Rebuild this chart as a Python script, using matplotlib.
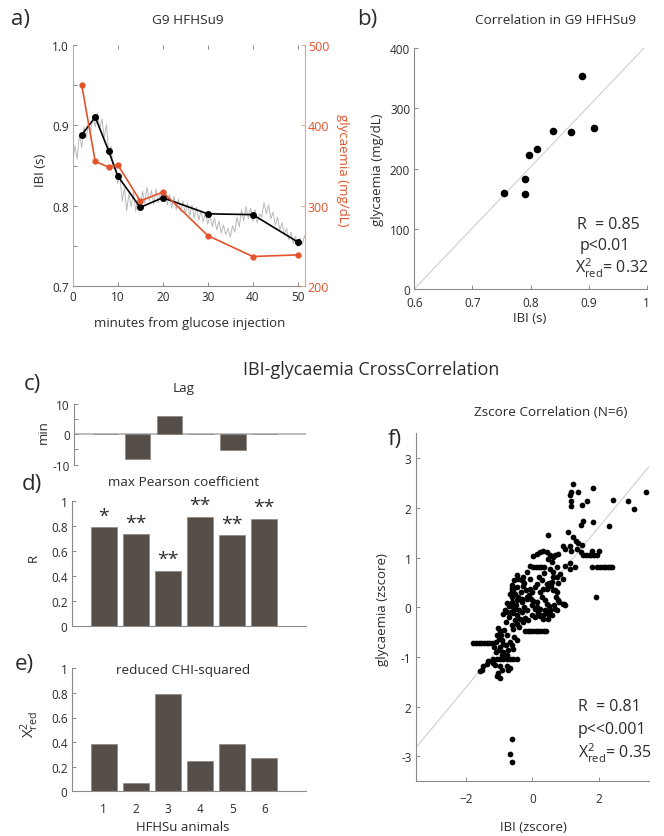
import matplotlib
matplotlib.use("Agg")
import matplotlib.pyplot as plt
import numpy as np

plt.rcParams["font.family"] = ["Open Sans", "DejaVu Sans"]
plt.rcParams["mathtext.fontset"] = "custom"
plt.rcParams["mathtext.rm"] = "Open Sans"
plt.rcParams["mathtext.it"] = "Open Sans:italic"

# ---- data: panel a (one recording)
trace_ibi = [0.852, 0.875, 0.858, 0.889, 0.872, 0.898, 0.884, 0.903, 0.893, 0.912,
             0.898, 0.915, 0.896, 0.908, 0.884, 0.901, 0.866, 0.874, 0.846, 0.852,
             0.828, 0.836, 0.806, 0.822, 0.794, 0.815, 0.799, 0.818, 0.793, 0.812,
             0.797, 0.818, 0.803, 0.823, 0.806, 0.819, 0.802, 0.821, 0.804, 0.817,
             0.806, 0.819, 0.801, 0.814, 0.797, 0.812, 0.795, 0.808, 0.793, 0.806,
             0.790, 0.803, 0.788, 0.801, 0.785, 0.798, 0.782, 0.794, 0.780, 0.792,
             0.777, 0.789, 0.774, 0.785, 0.770, 0.781, 0.766, 0.776, 0.764, 0.772,
             0.761, 0.775, 0.767, 0.786, 0.774, 0.795, 0.781, 0.799, 0.784, 0.797,
             0.781, 0.795, 0.779, 0.790, 0.786, 0.804, 0.790, 0.801, 0.784, 0.792,
             0.776, 0.786, 0.770, 0.779, 0.764, 0.772, 0.758, 0.767, 0.753, 0.762,
             0.749, 0.760, 0.752, 0.763, 0.755]
trace_min = np.arange(len(trace_ibi)) * 0.5
sample_min = [2, 5, 8, 10, 15, 20, 30, 40, 50]
ibi_mean = [0.888, 0.910, 0.868, 0.837, 0.798, 0.810, 0.790, 0.789, 0.755]
glyc = [450, 355, 348, 351, 306, 317, 263, 237, 239]

# ---- panel b
b_ibi = [0.755, 0.790, 0.790, 0.798, 0.811, 0.838, 0.869, 0.889, 0.910]
b_glyc = [160, 158, 183, 222, 232, 263, 261, 354, 268]

# ---- panels c, d, e
animals = [1, 2, 3, 4, 5, 6]
lag = [0, -8.2, 6.0, 0, -5.1, 0]
pearson = [0.787, 0.731, 0.44, 0.872, 0.726, 0.856]
signif = ["*", "**", "**", "**", "**", "**"]
chi2 = [0.388, 0.068, 0.789, 0.244, 0.388, 0.274]

# ---- panel f (zscores, all animals)
f_ibi = [1.23, 1.15, 1.36, 1.13, 1.15, 1.15, 1.48, 1.63, 1.83, 2.43, 2.86, 3.05, 3.40,
         1.53, 1.46, 1.81, 2.31, 1.08, 0.46, 1.23, 1.30, 1.38,
         0.93, 0.98, 1.13, 1.16, 1.33, 1.48, 1.46,
         1.53, 1.61, 1.69, 1.77, 1.85, 1.93, 1.78, 2.01,
         1.80, 1.95, 2.03, 2.11, 2.18, 2.26, 2.33, 2.38,
         0.78, 0.68, 0.73, 0.98, 1.13, 1.13, 1.28, 0.83, 0.73, 0.93,
         0.03, 0.13, 0.23, 0.33, 0.43, 0.53, 0.61,
         -0.07, 0.03, 0.11, 0.19, 0.27, 0.35,
         0.48, 0.58, 0.53, 0.63,
         -0.42, -0.32, -0.27, -0.62, -0.57, -0.52, -0.62, -0.17, -0.07, 0.13,
         -0.07, 0.08, 0.23, 0.33, 0.43, 0.53, 0.58, 0.63, 0.73, 0.78, 0.93, 0.98,
         -0.32, -0.17, 0.13, 0.08, 0.18, 0.38, 0.48, 0.53, 0.68, 0.48, 0.58, 0.33,
         1.90, 0.76, 0.68, 0.80, 0.96, 0.73,
         -0.32, -0.25, -0.29, 0.51, 0.55, 0.45,
         -0.62, -0.67, -0.57, -0.42, -0.47, -0.32, -0.17, -0.05, 0.03,
         0.28, 0.38, 0.43, 0.51, 0.53, 0.45,
         -0.77, -0.69, -0.82, -0.87, -0.77, -0.59, -0.52, -0.57, -0.47,
         0.13, 0.23, 0.18, -0.02, 0.08, 0.23, 0.33, 0.41,
         -0.22, -0.12, -0.27, -0.37, -0.52, -0.45, -0.39, -0.62, -0.57,
         -0.22, -0.14, -0.06, 0.02, 0.10, 0.18, 0.26, 0.34, 0.42,
         -1.02, -0.97, -1.05, -0.99, -1.09,
         -1.77, -1.69, -1.61, -1.53, -1.45, -1.37, -1.29, -1.21,
         -0.92, -0.87, -0.97, -0.67, -0.62, -0.57, -0.72, -0.87, -0.92, -0.77,
         -1.17, -1.07, -0.97, -0.87, -0.77, -0.67, -0.57, -0.47,
         -1.22, -1.17, -1.12, -1.32, -1.37, -1.47, -1.52, -1.57,
         -0.97, -0.92, -1.02, -1.07, -0.97, -0.77, -0.72, -0.67,
         -0.60, -0.67, -0.62,
         -1.0, -0.95, -0.85, -0.8, -0.7, -0.65, -0.6, -0.5, -0.4, -0.35, -0.45, -0.2,
         -0.1, 0.0, -0.3, -0.25, -0.15, 0.0, -0.55, -0.45, -0.75, -0.8, -1.1, -1.15,
         -0.6, -0.55, -0.45, 0.2, 0.3, 0.35, 0.62, 0.7, 0.65]
f_glyc = [2.49, 2.32, 2.32, 2.25, 2.13, 2.04, 2.05, 2.14, 2.39, 2.16, 2.13, 1.97, 2.32,
          1.73, 1.65, 1.71, 1.63, 1.51, 1.45, 1.41, 1.34, 1.29,
          1.24, 1.17, 1.23, 1.14, 1.17, 1.25, 1.12,
          1.05, 1.05, 1.05, 1.05, 1.05, 1.05, 1.14, 1.14,
          0.81, 0.81, 0.81, 0.81, 0.81, 0.81, 0.81, 0.81,
          1.07, 1.05, 0.81, 0.84, 0.89, 0.77, 0.81, 0.67, 0.61, 0.57,
          1.04, 1.07, 1.11, 1.14, 1.11, 1.05, 1.01,
          0.84, 0.81, 0.81, 0.81, 0.81, 0.81,
          0.97, 0.91, 0.77, 0.71,
          0.57, 0.54, 0.61, 0.39, 0.34, 0.27, 0.21, 0.71, 0.57, 0.47,
          0.37, 0.41, 0.31, 0.37, 0.47, 0.44, 0.51, 0.34, 0.31, 0.14, 0.07, 0.04,
          0.11, 0.17, 0.11, -0.03, -0.09, -0.06, -0.13, -0.06, -0.03, -0.23, -0.16, -0.23,
          0.21, 0.48, 0.34, 0.11, 0.06, -0.06,
          0.54, 0.49, 0.43, 0.49, 0.43, 0.37,
          0.34, 0.27, 0.24, 0.21, 0.14, 0.16, 0.21, 0.17, 0.12,
          0.21, 0.14, 0.07, 0.03, -0.06, -0.09,
          0.09, 0.03, -0.06, -0.13, -0.09, 0.01, -0.04, -0.11, -0.16,
          0.01, -0.04, -0.11, -0.16, -0.19, -0.17, -0.15, -0.09,
          -0.21, -0.26, -0.29, -0.23, -0.26, -0.33, -0.39, -0.36, -0.43,
          -0.47, -0.47, -0.47, -0.47, -0.47, -0.47, -0.47, -0.47, -0.47,
          -0.41, -0.48, -0.56, -0.63, -0.69,
          -0.72, -0.72, -0.72, -0.72, -0.72, -0.72, -0.72, -0.72,
          -0.66, -0.73, -0.79, -0.69, -0.76, -0.84, -0.86, -0.89, -0.96, -0.95,
          -1.03, -1.03, -1.03, -1.03, -1.03, -1.03, -1.03, -1.03,
          -1.08, -1.13, -1.17, -1.09, -1.15, -1.19, -1.26, -1.29,
          -1.19, -1.26, -1.33, -1.39, -1.43, -1.19, -1.26, -1.23,
          -2.65, -2.95, -3.11,
          -0.85, -0.55, -0.45, -0.3, -0.2, -0.1, 0.1, 0.05, -0.05, 0.3, 0.4, 0.35,
          0.25, 0.3, -0.1, 0.0, -0.05, 0.05, -0.6, -0.65, -0.55, -0.75, -0.9, -0.8,
          0.45, 0.55, 0.65, 0.6, 0.55, 0.7, 0.6, 0.2, 0.05]

# ---- style
W, H = 664, 837
ORANGE = "#e4532a"
BAR = "#564e49"
SPINE = "#8a8a8a"
TXT = "#2b2b2b"
TITLE_FS = 9.7
LABEL_FS = 9.5
TICK_FS = 8.5
STAT_FS = 11.5
PANEL_FS = 16

fig = plt.figure(figsize=(W / 100, H / 100), dpi=100)


def box(l, t, r, b):
    return [l / W, 1 - b / H, (r - l) / W, (b - t) / H]


def ftext(x, y, s, **kw):
    kw.setdefault("ha", "center")
    kw.setdefault("va", "center")
    kw.setdefault("color", TXT)
    fig.text(x / W, 1 - y / H, s, **kw)


def style(ax, sides=("left", "bottom")):
    for k, sp in ax.spines.items():
        sp.set_visible(k in sides)
        sp.set_color(SPINE)
        sp.set_linewidth(0.8)
    ax.tick_params(direction="in", length=3, width=0.7, color=SPINE,
                   labelsize=TICK_FS, labelcolor=TXT, pad=3)


# ---- a) time course
axA = fig.add_axes(box(72.7, 45.7, 305, 287.3))
style(axA, ("left", "bottom", "right"))
axA.spines["left"].set_color("#9fb1dc")
axA.spines["right"].set_color("#f0a080")
axA.plot(trace_min, trace_ibi, color="#b9b9b9", lw=0.7, zorder=1)
axA.plot(sample_min, ibi_mean, "-o", color="black", ms=4, lw=1.2, zorder=3)
axA.set_xlim(0, 51.6)
axA.set_ylim(0.7, 1.0)
axA.set_xticks([0, 10, 20, 30, 40, 50])
axA.set_yticks([0.7, 0.75, 0.8, 0.85, 0.9, 0.95, 1.0])
axA.set_yticklabels(["0.7", "", "0.8", "", "0.9", "", "1.0"])
axA.tick_params(axis="x", top=True)
axA2 = axA.twinx()
style(axA2, ())
axA2.plot(sample_min, glyc, "-o", color=ORANGE, ms=3.5, lw=1.2, zorder=2)
axA2.set_ylim(200, 500)
axA2.set_yticks([200, 300, 400, 500])
axA2.tick_params(axis="y", colors="#f0a080", labelcolor=ORANGE, labelsize=9, pad=2)
axA.patch.set_visible(False)

ftext(20, 20, "a)", fontsize=PANEL_FS)
ftext(188, 20, "G9 HFHSu9", fontsize=TITLE_FS)
ftext(41, 170, "IBI (s)", fontsize=LABEL_FS, rotation=90)
ftext(343, 170, "glycaemia (mg/dL)", fontsize=LABEL_FS, rotation=270, color=ORANGE)
ftext(190, 323, "minutes from glucose injection", fontsize=LABEL_FS)

# ---- b) correlation in one animal
axB = fig.add_axes(box(414.3, 49.3, 646.7, 290))
style(axB)
axB.plot([0.6, 1.0], [0, 405], color="#cfcfcf", lw=0.8, zorder=1)
axB.scatter(b_ibi, b_glyc, s=20, color="black", zorder=3)
axB.set_xlim(0.6, 1.0)
axB.set_ylim(0, 400)
axB.set_xticks([0.6, 0.7, 0.8, 0.9, 1.0])
axB.set_xticklabels(["0.6", "0.7", "0.8", "0.9", "1"])
axB.set_yticks([0, 100, 200, 300, 400])
axB.tick_params(axis="x", pad=5)
ftext(367, 20, "b)", fontsize=PANEL_FS)
ftext(556, 20, "Correlation in G9 HFHSu9", fontsize=TITLE_FS)
ftext(378, 170, "glycaemia (mg/dL)", fontsize=LABEL_FS, rotation=90)
ftext(530, 318, "IBI (s)", fontsize=LABEL_FS)
ftext(577, 225, "R  = 0.85", fontsize=STAT_FS, ha="left")
ftext(580, 246, "p<0.01", fontsize=STAT_FS, ha="left")
ftext(575, 268, r"$\mathregular{X^2_{red}}$= 0.32", fontsize=STAT_FS, ha="left")

# ---- c) lag
ftext(371, 370, "IBI-glycaemia CrossCorrelation", fontsize=13)
axC = fig.add_axes(box(74, 404.7, 306, 465.7))
style(axC, ("left",))
axC.axhline(0, color="#b0b0b0", lw=1.2, zorder=1)
axC.bar(animals, lag, width=0.8, color=BAR, edgecolor="#8a8480", lw=0.5, zorder=2)
axC.set_xlim(0, 7.3)
axC.set_ylim(-10, 10)
axC.set_yticks([-10, -5, 0, 5, 10])
axC.set_yticklabels(["-10", "", "0", "", "10"])
axC.set_xticks([])
ftext(32, 385, "c)", fontsize=PANEL_FS)
ftext(184, 389, "Lag", fontsize=TITLE_FS)
ftext(43, 432, "min", fontsize=LABEL_FS, rotation=90)

# ---- d) max Pearson coefficient
axD = fig.add_axes(box(71.7, 501.7, 306, 626.7))
style(axD)
axD.bar(animals, pearson, width=0.8, color=BAR, edgecolor="#8a8480", lw=0.5)
for xi, v, s in zip(animals, pearson, signif):
    axD.text(xi, v + 0.02, s, ha="center", va="bottom", fontsize=14, color=TXT)
axD.set_xlim(0, 7.3)
axD.set_ylim(0, 1)
axD.set_xticks([])
axD.set_yticks([0, 0.2, 0.4, 0.6, 0.8, 1])
axD.set_yticklabels(["0", "0.2", "0.4", "0.6", "0.8", "1"])
ftext(32, 485, "d)", fontsize=PANEL_FS)
ftext(184, 483, "max Pearson coefficient", fontsize=TITLE_FS)
ftext(33, 558, "R", fontsize=LABEL_FS, rotation=90)

# ---- e) reduced chi-squared
axE = fig.add_axes(box(71.7, 669.3, 306, 792.3))
style(axE)
axE.bar(animals, chi2, width=0.8, color=BAR, edgecolor="#8a8480", lw=0.5)
axE.set_xlim(0, 7.3)
axE.set_ylim(0, 1)
axE.set_xticks(animals)
axE.tick_params(axis="x", length=0, pad=8)
axE.set_yticks([0, 0.2, 0.4, 0.6, 0.8, 1])
axE.set_yticklabels(["0", "0.2", "0.4", "0.6", "0.8", "1"])
ftext(24, 665, "e)", fontsize=PANEL_FS)
ftext(183, 671, "reduced CHI-squared", fontsize=TITLE_FS)
ftext(30, 725, r"$\mathregular{X^2_{red}}$", fontsize=11, rotation=90)
ftext(183, 828, "HFHSu animals", fontsize=LABEL_FS)

# ---- f) zscore correlation
axF = fig.add_axes(box(415.7, 434.3, 649, 782.3))
style(axF)
axF.plot([-3.5, 3.5], [-2.83, 2.83], color="#cfcfcf", lw=0.8, zorder=1)
axF.scatter(f_ibi, f_glyc, s=17, color="black", zorder=3, linewidths=0)
axF.set_xlim(-3.5, 3.5)
axF.set_ylim(-3.5, 3.5)
axF.set_xticks([-2, 0, 2])
axF.set_yticks([-3, -2, -1, 0, 1, 2, 3])
axF.set_yticklabels(["-3", "2", "-1", "0", "1", "2", "3"])
axF.tick_params(axis="x", pad=8)
ftext(395, 440, "f)", fontsize=PANEL_FS)
ftext(551, 413, "Zscore Correlation (N=6)", fontsize=TITLE_FS)
ftext(383, 610, "glycaemia (zscore)", fontsize=LABEL_FS, rotation=90)
ftext(533, 828, "IBI (zscore)", fontsize=LABEL_FS)
ftext(578, 707, "R  = 0.81", fontsize=STAT_FS, ha="left")
ftext(578, 730, "p<<0.001", fontsize=STAT_FS, ha="left")
ftext(578, 753, r"$\mathregular{X^2_{red}}$= 0.35", fontsize=STAT_FS, ha="left")

fig.savefig("out.png", dpi=100)
